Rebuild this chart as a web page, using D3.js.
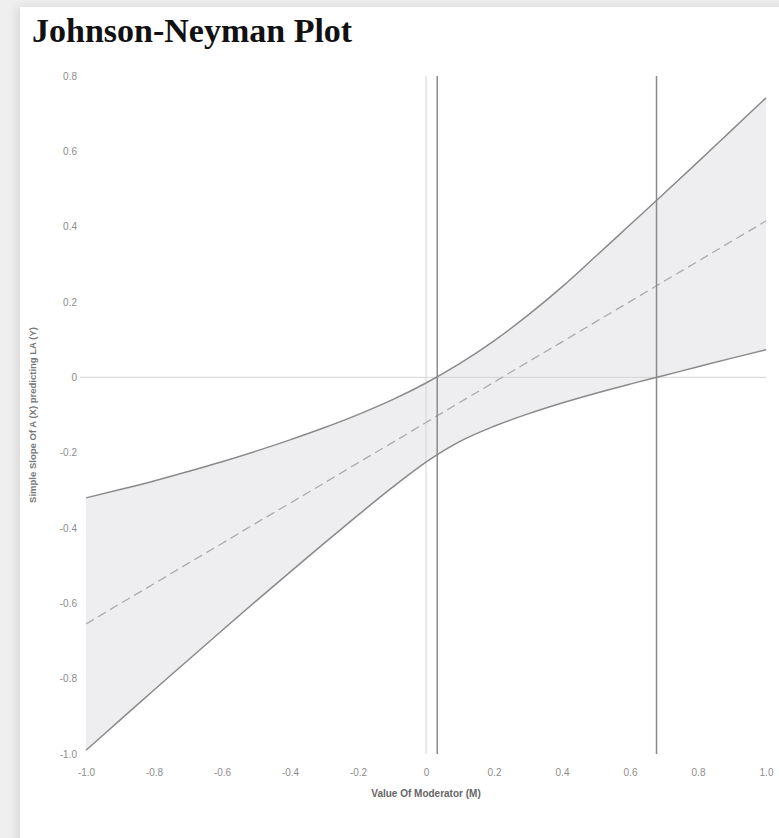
<!DOCTYPE html>
<html>
<head>
<meta charset="utf-8">
<script src="https://cdn.jsdelivr.net/npm/d3@7"></script>
<style>
  body { margin: 0; background: #efefef; overflow: hidden; }
  .card { position: absolute; left: 20px; top: 7px; width: 820px; height: 900px;
          background: #fff; box-shadow: -3px 0 10px rgba(0,0,0,0.10); }
  svg { position: absolute; left: 0; top: 0; }
</style>
</head>
<body>
<div class="card"></div>
<div id="chart-area"></div>
<script>
// values
var moderator = [-1.0, -0.9, -0.8, -0.7, -0.6, -0.5, -0.4, -0.3, -0.2, -0.1, 0.0, 0.1, 0.2, 0.3, 0.4, 0.5, 0.6, 0.7, 0.8, 0.9, 1.0]
var slope = [-0.655, -0.601, -0.548, -0.494, -0.441, -0.387, -0.334, -0.281, -0.227, -0.174, -0.12, -0.066, -0.013, 0.041, 0.094, 0.148, 0.201, 0.255, 0.308, 0.362, 0.415]
var upper = [-0.32, -0.298, -0.275, -0.25, -0.224, -0.196, -0.166, -0.134, -0.099, -0.06, -0.015, 0.037, 0.097, 0.165, 0.24, 0.322, 0.405, 0.488, 0.572, 0.657, 0.742]
var lower = [-0.99, -0.91, -0.83, -0.751, -0.672, -0.594, -0.517, -0.441, -0.366, -0.293, -0.225, -0.17, -0.13, -0.097, -0.068, -0.042, -0.018, 0.005, 0.028, 0.051, 0.073]
// Johnson-Neyman boundaries
var jnPoints = [0.033, 0.678]

var xTicks = [-1.0, -0.8, -0.6, -0.4, -0.2, 0, 0.2, 0.4, 0.6, 0.8, 1.0]
var yTicks = [0.8, 0.6, 0.4, 0.2, 0, -0.2, -0.4, -0.6, -0.8, -1.0]

const WIDTH = 779
const HEIGHT = 838
var margin = {"left": 86, "right": 13, "top": 76, "bottom": 84}
const GRAPH_WIDTH = WIDTH - margin.left - margin.right
const GRAPH_HEIGHT = HEIGHT - margin.top - margin.bottom

var svg = d3.select('#chart-area').append("svg")
    .attr("width", WIDTH)
    .attr("height", HEIGHT)

svg.append("text")
    .attr("x", 32)
    .attr("y", 42)
    .attr("font-family", "'Liberation Serif', 'Times New Roman', serif")
    .attr("font-weight", "bold")
    .attr("font-size", "34px")
    .attr("fill", "#111")
    .text("Johnson-Neyman Plot")

var g = svg.append("g")
    .attr("transform", "translate(" + margin.left + "," + margin.top + ")")

var xScale = d3.scaleLinear()
    .domain([-1, 1])
    .range([0, GRAPH_WIDTH])

var yScale = d3.scaleLinear()
    .domain([-1, 0.8])
    .range([GRAPH_HEIGHT, 0])

// plain hyphen for negatives, like the original
var fmt = function(d){ return d === 0 ? "0" : d.toFixed(1) }

var rows = moderator.map(function(m, i){
    return {m: m, est: slope[i], lo: lower[i], hi: upper[i]}
})

// confidence band
var area = d3.area()
    .x(function(d){ return xScale(d.m) })
    .y0(function(d){ return yScale(d.lo) })
    .y1(function(d){ return yScale(d.hi) })
    .curve(d3.curveMonotoneX)
g.append("path")
    .datum(rows)
    .attr("d", area)
    .attr("fill", "#eeeef0")

// zero reference lines
g.append("line")
    .attr("x1", -6).attr("x2", GRAPH_WIDTH)
    .attr("y1", yScale(0)).attr("y2", yScale(0))
    .attr("stroke", "#d4d4d4")
    .attr("stroke-width", 1)
g.append("line")
    .attr("x1", xScale(0)).attr("x2", xScale(0))
    .attr("y1", 0).attr("y2", GRAPH_HEIGHT)
    .attr("stroke", "#d4d4d4")
    .attr("stroke-width", 1)

var lineHi = d3.line()
    .x(function(d){ return xScale(d.m) })
    .y(function(d){ return yScale(d.hi) })
    .curve(d3.curveMonotoneX)
var lineLo = d3.line()
    .x(function(d){ return xScale(d.m) })
    .y(function(d){ return yScale(d.lo) })
    .curve(d3.curveMonotoneX)
var lineEst = d3.line()
    .x(function(d){ return xScale(d.m) })
    .y(function(d){ return yScale(d.est) })

g.append("path").datum(rows).attr("d", lineHi)
    .attr("fill", "none").attr("stroke", "#8a8a8a").attr("stroke-width", 1.5)
g.append("path").datum(rows).attr("d", lineLo)
    .attr("fill", "none").attr("stroke", "#8a8a8a").attr("stroke-width", 1.5)
g.append("path").datum(rows).attr("d", lineEst)
    .attr("fill", "none").attr("stroke", "#ababab").attr("stroke-width", 1.3)
    .attr("stroke-dasharray", "9,5")

// Johnson-Neyman boundary lines
g.selectAll(".jn").data(jnPoints).enter()
    .append("line")
    .attr("class", "jn")
    .attr("x1", function(d){ return xScale(d) })
    .attr("x2", function(d){ return xScale(d) })
    .attr("y1", 0)
    .attr("y2", GRAPH_HEIGHT)
    .attr("stroke", "#8a8a8a")
    .attr("stroke-width", 1.5)

// axes: labels only, no domain or tick marks
var xAxisGroup = g.append("g")
    .attr("transform", "translate(0," + GRAPH_HEIGHT + ")")
    .call(d3.axisBottom(xScale).tickValues(xTicks).tickFormat(fmt).tickSize(0).tickPadding(15))
var yAxisGroup = g.append("g")
    .call(d3.axisLeft(yScale).tickValues(yTicks).tickFormat(fmt).tickSize(0).tickPadding(9))

g.selectAll(".domain").remove()
g.selectAll(".tick text")
    .attr("font-family", "'Liberation Sans', Arial, sans-serif")
    .attr("font-size", "10px")
    .attr("fill", "#8c8c8c")

//x label
g.append("text")
    .attr("x", GRAPH_WIDTH / 2)
    .attr("y", GRAPH_HEIGHT + 43)
    .attr("font-family", "'Liberation Sans', Arial, sans-serif")
    .attr("font-size", "10px")
    .attr("font-weight", "bold")
    .attr("fill", "#666")
    .attr("text-anchor", "middle")
    .text("Value Of Moderator (M)")

//y label
g.append("text")
    .attr("transform", "rotate(-90)")
    .attr("x", -GRAPH_HEIGHT / 2)
    .attr("y", -50)
    .attr("font-family", "'Liberation Sans', Arial, sans-serif")
    .attr("font-size", "9.5px")
    .attr("font-weight", "bold")
    .attr("fill", "#777")
    .attr("text-anchor", "middle")
    .text("Simple Slope Of A (X) predicting LA (Y)")
</script>
</body>
</html>
